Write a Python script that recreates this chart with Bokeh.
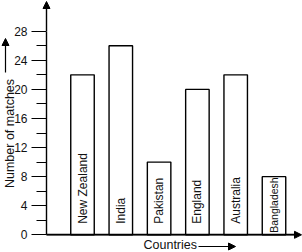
import math
from bokeh.plotting import figure
from bokeh.models import Range1d, LinearAxis, FixedTicker, Arrow, NormalHead, ColumnDataSource
from bokeh.core.properties import value
from bokeh.embed import file_html
from bokeh.resources import INLINE

# ---- data ----
countries = ["New Zealand", "India", "Pakistan", "England", "Australia", "Bangladesh"]
matches = [22, 26, 10, 20, 22, 8]
y_ticks = [0, 4, 8, 12, 16, 20, 24, 28]
y_minor_ticks = [2, 6, 10, 14, 18, 22, 26]
x_title = "Countries"
y_title = "Number of matches"

# ---- layout (pixels) ----
W, H = 302, 252
PX_PER_SLOT = 38.3
PX_PER_UNIT = 7.27
FIRST_CENTER_PX = 82.0
ZERO_PX = 234.3
AXIS_PX = 46.0
FONT = "Liberation Sans"
INK = "#111111"


def X(px):
    return (px - FIRST_CENTER_PX) / PX_PER_SLOT


def Y(py):
    return (ZERO_PX - py) / PX_PER_UNIT


p = figure(width=W, height=H, x_range=Range1d(X(0), X(W)), y_range=Range1d(Y(H), Y(0)),
           x_axis_type=None, y_axis_type=None, toolbar_location=None,
           output_backend="svg", min_border=0, outline_line_color=None)

# bars
xs = list(range(len(countries)))
label_y, label_fs = [], []
for name, v in zip(countries, matches):
    fits = v * PX_PER_UNIT - 11 > 0.55 * 12 * len(name)
    label_y.append((11 if fits else 2) / PX_PER_UNIT)
    label_fs.append("12px" if fits else "10.5px")

src = ColumnDataSource(dict(x=xs, top=matches, name=countries, ly=label_y, fs=label_fs))
p.vbar(x="x", top="top", bottom=0, width=23.5 / PX_PER_SLOT, source=src,
       fill_color="white", line_color="black", line_width=1.4)
p.text(x="x", y="ly", text="name", angle=math.pi / 2, text_align="left",
       text_baseline="middle", text_font=value(FONT), text_font_size="fs",
       text_color=INK, source=src)

# y axis
yax = LinearAxis(fixed_location=X(AXIS_PX),
                 ticker=FixedTicker(ticks=y_ticks, minor_ticks=y_minor_ticks),
                 bounds=(0, y_ticks[-1]))
yax.major_tick_out = 15
yax.major_tick_in = 0
yax.minor_tick_out = 10
yax.minor_tick_in = 0
yax.major_label_standoff = 4
yax.major_label_text_font = FONT
yax.major_label_text_font_size = "12px"
yax.major_label_text_color = INK
yax.axis_line_width = 1.4
yax.axis_line_color = "black"
yax.major_tick_line_width = 1.2
yax.minor_tick_line_width = 1.2
p.add_layout(yax, "left")
p.add_layout(Arrow(x_start=X(AXIS_PX), y_start=y_ticks[-1], x_end=X(AXIS_PX), y_end=Y(1),
                   line_width=1.4, line_color="black",
                   end=NormalHead(size=7, fill_color="black", line_color="black", line_width=1)))

# x axis
xax = LinearAxis(fixed_location=0, ticker=FixedTicker(ticks=[]), bounds=(X(AXIS_PX), X(296)))
xax.major_label_text_font_size = "0px"
xax.axis_line_width = 1.4
xax.axis_line_color = "black"
p.add_layout(xax, "below")
p.add_layout(Arrow(x_start=X(AXIS_PX), y_start=0, x_end=X(301), y_end=0,
                   line_width=1.4, line_color="black",
                   end=NormalHead(size=7, fill_color="black", line_color="black", line_width=1)))

# titles
p.text(x=[X(9)], y=[Y(133)], text=[y_title], angle=math.pi / 2, text_align="center",
       text_baseline="middle", text_font=value(FONT), text_font_size="12.5px", text_color=INK)
p.add_layout(Arrow(x_start=X(5), y_start=Y(72), x_end=X(5), y_end=Y(38),
                   line_width=1.2, line_color="black",
                   end=NormalHead(size=7, fill_color="black", line_color="black", line_width=1)))

p.text(x=[X(143)], y=[Y(244)], text=[x_title], text_align="left",
       text_baseline="middle", text_font=value(FONT), text_font_size="12.5px", text_color=INK)
p.add_layout(Arrow(x_start=X(198), y_start=Y(246), x_end=X(235), y_end=Y(246),
                   line_width=1.2, line_color="black",
                   end=NormalHead(size=7, fill_color="black", line_color="black", line_width=1)))

open("out.html", "w").write(file_html(p, INLINE))
